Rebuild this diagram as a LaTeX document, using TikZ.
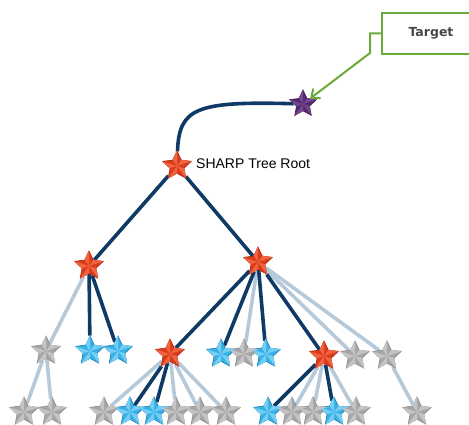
\documentclass[tikz,border=0pt]{standalone}
\usepackage{fontspec}
\setmainfont{Liberation Sans}
\newfontfamily\boxfont{DejaVu Sans}
\usetikzlibrary{shapes.geometric,arrows.meta,backgrounds}

\definecolor{starred}{HTML}{DE3A18}
\definecolor{starredhi}{HTML}{EE6340}
\definecolor{starredlo}{HTML}{A82410}
\definecolor{starblue}{HTML}{38B2E6}
\definecolor{starbluehi}{HTML}{74CEF4}
\definecolor{starbluelo}{HTML}{1F78AE}
\definecolor{stargray}{HTML}{A6A6A6}
\definecolor{stargrayhi}{HTML}{C4C4C4}
\definecolor{stargraylo}{HTML}{8C8C8C}
\definecolor{starpurple}{HTML}{55296F}
\definecolor{starpurplehi}{HTML}{74478F}
\definecolor{starpurplelo}{HTML}{3A1A4E}
\definecolor{edgedark}{HTML}{0F3A66}
\definecolor{edgelight}{HTML}{B6C9D8}
\definecolor{boxgreen}{HTML}{6AAA3A}
\definecolor{boxtext}{HTML}{474747}

\tikzset{
  starbase/.style={star, star points=5, star point ratio=2.05,
    minimum size=30pt, inner sep=0pt, line width=0.6pt},
  redstar/.style={starbase, fill=starred, draw=starredlo},
  bluestar/.style={starbase, fill=starblue, draw=starbluelo},
  graystar/.style={starbase, fill=stargray, draw=stargraylo},
  purplestar/.style={starbase, minimum size=28pt, fill=starpurple, draw=starpurplelo},
  strong/.style={line width=3.6pt, draw=edgedark},
  weak/.style={line width=3.6pt, draw=edgelight},
  pointer/.style={line width=2pt, draw=boxgreen,
    -{Straight Barb[length=7pt,width=12pt,line width=2pt]}},
}

% light half of every arm, for the bevelled look
\newcommand\starfacets[2]{%
  \foreach \i in {1,...,5}{%
    \fill[#2] (#1.center) -- (#1.outer point \i) -- (#1.inner point \i) -- cycle;}}

\begin{document}
\begin{tikzpicture}[x=1pt,y=-1pt]
\clip (0,0) rectangle (469,425);

% target box and label
\node[draw=boxgreen, line width=2pt, minimum width=98pt, minimum height=41pt,
      font=\boxfont\bfseries\fontsize{12.5}{14}\selectfont, text=boxtext]
      (target) at (431,33.5) {Target};

% stars
\node[purplestar] (P) at (303,104) {};
\node[redstar] (R) at (177,166) {};
\node[anchor=west, inner sep=0pt, font=\fontsize{14}{16}\selectfont] (rootlabel) at (196,163.5) {SHARP Tree Root};

\node[redstar] (L) at (89,266) {};
\node[redstar] (M) at (258,262) {};

\node[graystar] (a1) at (46,351) {};
\node[bluestar] (a2) at (90,351) {};
\node[bluestar] (a3) at (118,351) {};
\node[redstar]  (b)  at (170,354) {};
\node[bluestar] (c1) at (221,354) {};
\node[graystar] (c2) at (244,354) {};
\node[bluestar] (c3) at (266,354) {};
\node[redstar]  (d)  at (324,356) {};
\node[graystar] (e1) at (355,356) {};
\node[graystar] (e2) at (387,356) {};

\node[graystar] (f1) at (24,412) {};
\node[graystar] (f2) at (52,412) {};
\node[graystar] (g1) at (104,412) {};
\node[bluestar] (g2) at (130,412) {};
\node[bluestar] (g3) at (154,412) {};
\node[graystar] (g4) at (176,412) {};
\node[graystar] (g5) at (200,412) {};
\node[graystar] (g6) at (226,412) {};
\node[bluestar] (h1) at (268,412) {};
\node[graystar] (h2) at (292,412) {};
\node[graystar] (h3) at (313,412) {};
\node[bluestar] (h4) at (334,412) {};
\node[graystar] (h5) at (356,412) {};
\node[graystar] (k)  at (417,412) {};

\starfacets{P}{starpurplehi}
\foreach \n in {R,L,M,b,d}{\starfacets{\n}{starredhi}}
\foreach \n in {a2,a3,c1,c3,g2,g3,h1,h4}{\starfacets{\n}{starbluehi}}
\foreach \n in {a1,c2,e1,e2,f1,f2,g1,g4,g5,g6,h2,h3,h5,k}{\starfacets{\n}{stargrayhi}}

% connectors
\begin{pgfonlayer}{background}
  \foreach \s/\t in {L/a1, a1/f1, a1/f2, M/c2, M/e1, M/e2,
                     b/g1, b/g4, b/g5, b/g6, d/h2, d/h3, d/h5, e2/k}
    \draw[weak] (\s) -- (\t);
  \foreach \s/\t in {R/L, R/M, L/a2, L/a3, M/b, M/c1, M/c3, M/d,
                     b/g2, b/g3, d/h1, d/h4}
    \draw[strong] (\s) -- (\t);
  \draw[strong] (R) .. controls (179,108) and (196,101) .. (P);
\end{pgfonlayer}

\draw[pointer] (target.west) -- ++(-11,0) -- ++(0,19.5) -- (P);
\end{tikzpicture}
\end{document}
